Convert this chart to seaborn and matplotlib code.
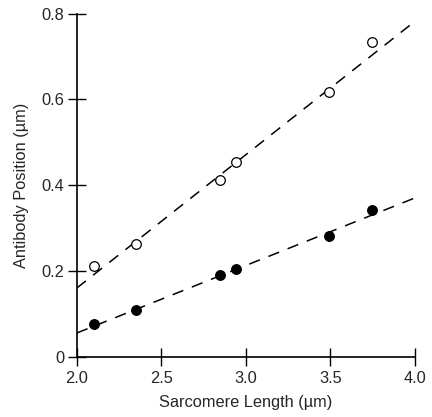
import matplotlib
matplotlib.use("Agg")
import matplotlib.pyplot as plt
import seaborn as sns
import pandas as pd

# Data
sarcomere_length = [2.10, 2.35, 2.85, 2.94, 3.49, 3.75]
open_position = [0.212, 0.262, 0.412, 0.455, 0.617, 0.733]
filled_position = [0.077, 0.108, 0.190, 0.205, 0.281, 0.342]

fit_x = [2.0, 4.0]
open_fit_y = [0.160, 0.782]
filled_fit_y = [0.055, 0.370]

x_ticks = [2.0, 2.5, 3.0, 3.5, 4.0]
x_tick_labels = ["2.0", "2.5", "3.0", "3.5", "4.0"]
y_ticks = [0, 0.2, 0.4, 0.6, 0.8]
y_tick_labels = ["0", "0.2", "0.4", "0.6", "0.8"]

sns.set_style("ticks")
plt.rcParams['font.family'] = ['Liberation Sans', 'DejaVu Sans']

fig = plt.figure(figsize=(4.32, 4.17), dpi=100)
ax = fig.add_axes([0.178, 0.145, 0.782, 0.822])

pts = pd.DataFrame({"x": sarcomere_length, "open": open_position, "filled": filled_position})

sns.lineplot(x=fit_x, y=open_fit_y, ax=ax, color="black", lw=1.1,
             dashes=False, linestyle=(0, (7.5, 6)))
sns.lineplot(x=fit_x, y=filled_fit_y, ax=ax, color="black", lw=1.1,
             dashes=False, linestyle=(0, (7.5, 6)))

sns.scatterplot(data=pts, x="x", y="open", ax=ax, marker="o", s=48,
                facecolor="white", edgecolor="black", linewidth=0.9, zorder=3)
sns.scatterplot(data=pts, x="x", y="filled", ax=ax, marker="o", s=48,
                color="black", edgecolor="black", linewidth=0.9, zorder=3)

ax.set_xlim(2.0, 4.0)
ax.set_ylim(0, 0.8)
ax.set_xticks(x_ticks)
ax.set_xticklabels(x_tick_labels)
ax.set_yticks(y_ticks)
ax.set_yticklabels(y_tick_labels)
ax.tick_params(direction="inout", length=12.5, width=1.0, labelsize=11.8, color="black")
ax.tick_params(axis="x", pad=4)
ax.tick_params(axis="y", pad=3)
ax.set_xlabel("Sarcomere Length (µm)", fontsize=11.8, labelpad=7)
ax.set_ylabel("Antibody Position (µm)", fontsize=11.8, labelpad=9)

for s in ["top", "right"]:
    ax.spines[s].set_visible(False)
for s in ["left", "bottom"]:
    ax.spines[s].set_linewidth(1.2)
    ax.spines[s].set_color("black")

fig.savefig("out.png", dpi=100)
